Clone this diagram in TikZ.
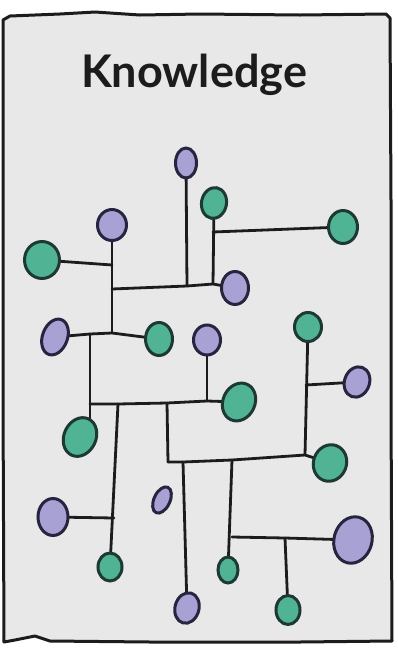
\documentclass[tikz,border=0pt]{standalone}
\usepackage{fontspec}
\setmainfont{Lato}
\usetikzlibrary{shapes.geometric}
\pgfdeclarelayer{wires}
\pgfsetlayers{wires,main}
\definecolor{paper}{HTML}{E8E8E8}
\definecolor{ink}{HTML}{1C1C1C}
\definecolor{gfill}{HTML}{4FB394}
\definecolor{gline}{HTML}{1E3833}
\definecolor{pfill}{HTML}{A8A1D4}
\definecolor{pline}{HTML}{26243F}
\tikzset{
  gdot/.style={ellipse, draw=gline, fill=gfill, line width=3pt, inner sep=0pt},
  pdot/.style={ellipse, draw=pline, fill=pfill, line width=3pt, inner sep=0pt},
  wire/.style={draw=ink, line width=2.8pt, line cap=round, line join=round},
  frame/.style={draw=ink, line width=3pt, fill=paper, line join=round}
}
\begin{document}
\begin{tikzpicture}[x=1pt,y=-1pt]
\useasboundingbox (0,0) rectangle (397,649);
\begin{pgfonlayer}{wires}
\fill[white] (0,0) rectangle (397,649);
\draw[frame] (3,20) -- (10,16) -- (60,14) -- (95,12) -- (140,15) -- (200,14) -- (300,15) -- (386,14) -- (390,18) -- (391,200) -- (391,400) -- (392,641) -- (300,642) -- (150,642) -- (50,641) -- (35,636) -- (15,640) -- (4,642) -- (3,400) -- (3,200) -- cycle;
\end{pgfonlayer}
\node[font=\bfseries\fontsize{45}{50}\selectfont, text=ink, anchor=base, inner sep=0pt] (title) at (194,87) {Knowledge};
% dots
\node[pdot, minimum width=21pt, minimum height=30pt] (P1) at (186,163) {};
\node[gdot, minimum width=25pt, minimum height=31pt, rotate=-10] (G1) at (214,203) {};
\node[pdot, minimum width=29pt, minimum height=31pt] (P2) at (112,225) {};
\node[gdot, minimum width=35pt, minimum height=37pt] (G2) at (42,260) {};
\node[gdot, minimum width=29pt, minimum height=33pt] (G3) at (343,227) {};
\node[pdot, minimum width=27pt, minimum height=33pt] (P3) at (235,288) {};
\node[pdot, minimum width=25pt, minimum height=37pt, rotate=-20] (P4) at (55,337) {};
\node[gdot, minimum width=27pt, minimum height=33pt] (G4) at (159,339) {};
\node[pdot, minimum width=27pt, minimum height=30pt] (P5) at (207,340) {};
\node[gdot, minimum width=27pt, minimum height=29pt] (G5) at (308,327) {};
\node[pdot, minimum width=25pt, minimum height=31pt, rotate=-20] (P6) at (357,382) {};
\node[gdot, minimum width=32pt, minimum height=39pt, rotate=-25] (G6) at (239,402) {};
\node[gdot, minimum width=32pt, minimum height=40pt, rotate=-25] (G7) at (80,437) {};
\node[gdot, minimum width=33pt, minimum height=37pt, rotate=-20] (G8) at (330,463) {};
\node[pdot, minimum width=16pt, minimum height=28pt, rotate=-25] (P7) at (162,500) {};
\node[pdot, minimum width=30pt, minimum height=37pt] (P8) at (53,517) {};
\node[pdot, minimum width=38pt, minimum height=47pt, rotate=-15] (P9) at (353,540) {};
\node[gdot, minimum width=24pt, minimum height=28pt] (G9) at (110,567) {};
\node[gdot, minimum width=20pt, minimum height=26pt] (G10) at (228,570) {};
\node[pdot, minimum width=24pt, minimum height=31pt, rotate=-15] (P10) at (187,608) {};
\node[gdot, minimum width=24pt, minimum height=29pt] (G11) at (288,610) {};
% junctions
\coordinate (ja) at (187,286);
\coordinate (jb) at (213,284);
\coordinate (jc) at (112,289);
\coordinate (jg3) at (213,232);
\coordinate (jg2) at (112,265);
\coordinate (jd) at (112,333);
\coordinate (je) at (90,334);
\coordinate (jf) at (90,404);
\coordinate (jt) at (90,425);
\coordinate (jh) at (118,404);
\coordinate (ji) at (167,403);
\coordinate (jp5) at (207,401);
\coordinate (jp8) at (114,518);
\coordinate (jk) at (168,462);
\coordinate (jl) at (183,462);
\coordinate (jm) at (232,460);
\coordinate (jn) at (305,455);
\coordinate (jo) at (306,385);
\coordinate (jq) at (232,537);
\coordinate (jr) at (285,538);
% wires
\begin{pgfonlayer}{wires}
\draw[wire] (P1.center) -- (ja);
\draw[wire] (G1.center) -- (jb);
\draw[wire] (jg3) -- (G3.center);
\draw[wire] (jc) -- (ja) -- (jb) -- (P3.center);
\draw[wire] (P2.center) -- (jd);
\draw[wire] (G2.center) -- (jg2);
\draw[wire] (P4.center) -- (je) -- (jd) -- (G4.center);
\draw[wire] (je) -- (jf) -- (jt);
\draw[wire] (jf) -- (jh) -- (ji) -- (jp5) -- (G6.center);
\draw[wire] (P5.center) -- (jp5);
\draw[wire] (jh) -- (G9.center);
\draw[wire] (P8.center) -- (jp8);
\draw[wire] (ji) -- (jk);
\draw[wire] (jk) -- (jl) -- (jm) -- (jn) -- (G8.center);
\draw[wire] (G5.center) -- (jn);
\draw[wire] (jo) -- (P6.center);
\draw[wire] (jl) -- (P10.center);
\draw[wire] (jm) -- (G10.center);
\draw[wire] (jq) -- (jr) -- (P9.center);
\draw[wire] (jr) -- (G11.center);
\end{pgfonlayer}
\end{tikzpicture}
\end{document}
